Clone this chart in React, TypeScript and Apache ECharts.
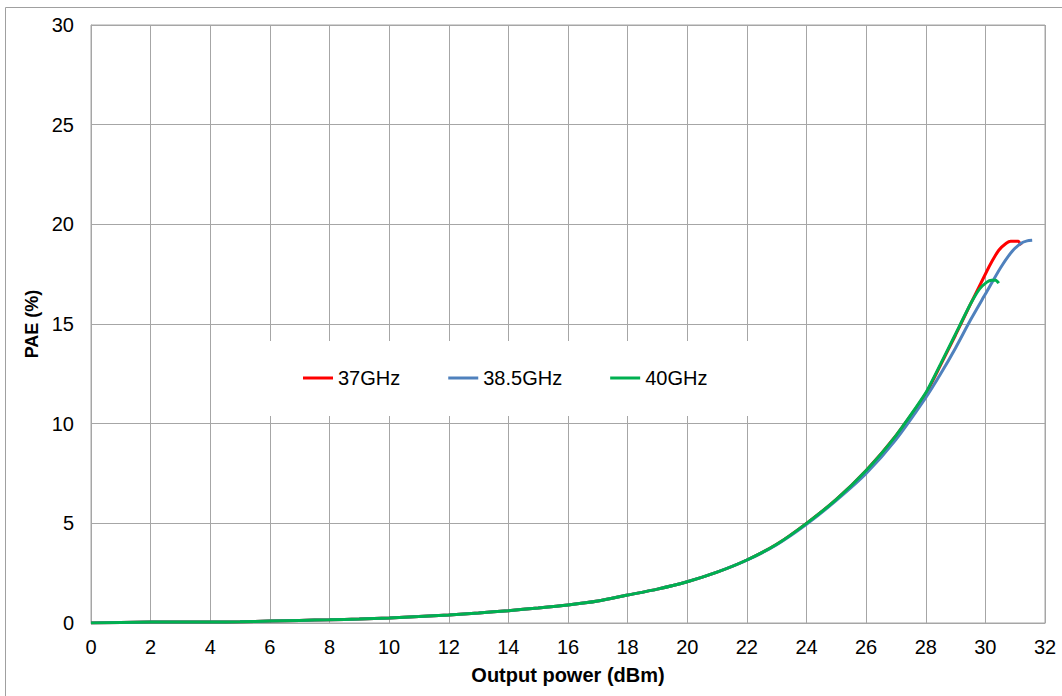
import React, { useEffect, useRef } from "react";
import * as echarts from "echarts";

const seriesNames = ["37GHz", "38.5GHz", "40GHz"];
const seriesColors = ["#FF0000", "#4F81BD", "#00B050"];

const x37 = [0, 1, 2, 3, 4, 5, 6, 7, 8, 9, 10, 11, 12, 13, 14, 15, 16, 17, 18, 19, 20, 21, 22, 23, 24, 25, 26, 27, 28, 28.5, 29, 29.5, 29.85, 30.15, 30.45, 30.7, 30.85, 31.1, 31.2];
const y37 = [0, 0.03, 0.05, 0.05, 0.05, 0.06, 0.1, 0.13, 0.16, 0.2, 0.25, 0.32, 0.4, 0.5, 0.62, 0.75, 0.9, 1.1, 1.4, 1.7, 2.07, 2.55, 3.16, 3.95, 5.0, 6.2, 7.65, 9.4, 11.5, 12.95, 14.45, 16.0, 17.05, 17.95, 18.7, 19.05, 19.15, 19.15, 18.95];

const x385 = [0, 1, 2, 3, 4, 5, 6, 7, 8, 9, 10, 11, 12, 13, 14, 15, 16, 17, 18, 19, 20, 21, 22, 23, 24, 25, 26, 27, 28, 28.5, 29, 29.5, 30, 30.5, 30.9, 31.2, 31.4, 31.57];
const y385 = [0, 0.03, 0.05, 0.05, 0.05, 0.06, 0.1, 0.13, 0.16, 0.2, 0.25, 0.32, 0.4, 0.5, 0.62, 0.75, 0.9, 1.1, 1.4, 1.7, 2.07, 2.55, 3.15, 3.93, 4.95, 6.15, 7.5, 9.2, 11.3, 12.5, 13.8, 15.2, 16.5, 17.8, 18.65, 19.05, 19.17, 19.2];

const x40 = [0, 1, 2, 3, 4, 5, 6, 7, 8, 9, 10, 11, 12, 13, 14, 15, 16, 17, 18, 19, 20, 21, 22, 23, 24, 25, 26, 27, 28, 28.5, 29, 29.5, 29.8, 30.05, 30.2, 30.35, 30.45];
const y40 = [0, 0.03, 0.05, 0.05, 0.05, 0.06, 0.1, 0.13, 0.16, 0.2, 0.25, 0.32, 0.4, 0.5, 0.62, 0.75, 0.9, 1.1, 1.4, 1.7, 2.07, 2.55, 3.16, 3.95, 5.0, 6.2, 7.65, 9.4, 11.55, 13.0, 14.5, 16.0, 16.75, 17.1, 17.2, 17.2, 17.05];

const xValues = [x37, x385, x40];
const yValues = [y37, y385, y40];

const xAxisTitle = "Output power (dBm)";
const yAxisTitle = "PAE (%)";

const FONT = "'Liberation Sans', Arial, sans-serif";
const GRID = "#a6a6a6";

export default function App() {
  const ref = useRef<HTMLDivElement>(null);
  useEffect(() => {
    document.body.style.margin = "0";
    if (!ref.current) return;
    const chart = echarts.init(ref.current, null, { renderer: "svg" });
    const series = seriesNames.map((name, i) => ({
      name,
      type: "line",
      data: xValues[i].map((x, j) => [x, yValues[i][j]]),
      showSymbol: false,
      smooth: 0.2,
      lineStyle: { width: 3, color: seriesColors[i] },
      itemStyle: { color: seriesColors[i] },
    }));
    chart.setOption({
      animation: false,
      backgroundColor: "#fff",
      textStyle: { fontFamily: FONT },
      graphic: [
        {
          type: "rect",
          shape: { x: 5.5, y: 7.5, width: 1080, height: 720 },
          style: { fill: "none", stroke: "#a0a0a0", lineWidth: 1 },
          silent: true,
        },
      ],
      grid: {
        left: 91,
        right: 17,
        top: 25,
        bottom: 73,
        show: true,
        borderColor: GRID,
        borderWidth: 1,
        backgroundColor: "transparent",
      },
      legend: {
        data: seriesNames,
        left: 240,
        top: 341,
        padding: [27, 60, 28, 63],
        backgroundColor: "#fff",
        itemGap: 48,
        itemWidth: 30,
        itemHeight: 3,
        icon: "rect",
        textStyle: { fontFamily: FONT, fontSize: 20, color: "#000" },
      },
      xAxis: {
        type: "value",
        min: 0,
        max: 32,
        interval: 2,
        name: xAxisTitle,
        nameLocation: "middle",
        nameGap: 42,
        nameTextStyle: { fontFamily: FONT, fontSize: 20, fontWeight: "bold", color: "#000" },
        axisLine: { show: true, lineStyle: { color: GRID } },
        axisTick: { show: false },
        axisLabel: { fontFamily: FONT, fontSize: 20, color: "#000", margin: 14 },
        splitLine: { show: true, lineStyle: { color: GRID, width: 1 } },
      },
      yAxis: {
        type: "value",
        min: 0,
        max: 30,
        interval: 5,
        name: yAxisTitle,
        nameLocation: "middle",
        nameRotate: 90,
        nameGap: 37,
        nameTextStyle: { fontFamily: FONT, fontSize: 18, fontWeight: "bold", color: "#000" },
        axisLine: { show: true, lineStyle: { color: GRID } },
        axisTick: { show: false },
        axisLabel: { fontFamily: FONT, fontSize: 20, color: "#000", margin: 17 },
        splitLine: { show: true, lineStyle: { color: GRID, width: 1 } },
      },
      series,
    });
    return () => chart.dispose();
  }, []);
  return <div ref={ref} style={{ width: 1062, height: 696 }} />;
}
